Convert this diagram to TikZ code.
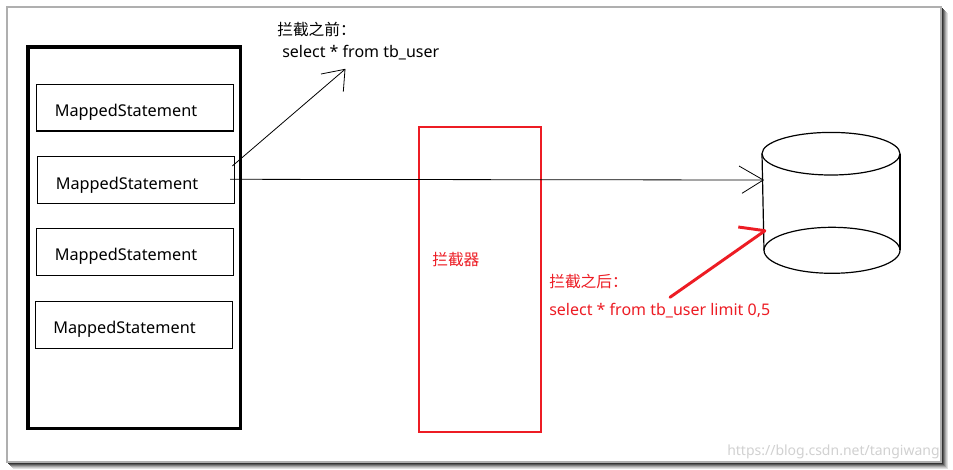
\documentclass[tikz,border=0pt]{standalone}
\usepackage{fontspec}
\setmainfont{Noto Sans}
\newfontfamily\cjk{Noto Sans CJK SC}
\definecolor{redline}{RGB}{237,28,36}
\definecolor{framegray}{RGB}{175,175,175}
\begin{document}
\begin{tikzpicture}[x=0.75pt,y=-0.75pt,
  msbox/.style={draw=black,line width=0.9pt},
  mstext/.style={inner sep=0pt,font=\fontsize{12.2}{14}\selectfont},
  lbl/.style={inner sep=0pt,anchor=west,font=\fontsize{12}{14}\selectfont},
  cjklbl/.style={lbl,font=\cjk\fontsize{11.8}{14}\selectfont},
  redlbl/.style={lbl,text=redline},
  thin/.style={line width=0.6pt},
  redthick/.style={draw=redline,line width=2.2pt}]
\useasboundingbox (0,0) rectangle (953,469);
\fill[white] (0,0) rectangle (953,469);
% frame and shadow
\foreach \d/\c in {1/80,2/65,3/50,4/35,5/22,6/12}{
  \draw[black!\c!white,line width=0.75pt] (941+\d,7+\d) -- (941+\d,462+\d) -- (7+\d,462+\d);
}
\draw[framegray,line width=1.5pt] (7,7) rectangle (941,462);
% big container
\draw[line width=2.3pt] (28,47) rectangle (240.5,428.5);
\draw[msbox] (36.7,84.3) rectangle (233.3,131);
\node[mstext] (ms1) at (126,112.5) {MappedStatement};
\draw[msbox] (37.3,156.3) rectangle (234.3,203.3);
\node[mstext] (ms2) at (127,184.8) {MappedStatement};
\draw[msbox] (36.7,228.7) rectangle (233.3,275.3);
\node[mstext] (ms3) at (126,256.5) {MappedStatement};
\draw[msbox] (35.3,301.3) rectangle (232.7,348.3);
\node[mstext] (ms4) at (124.5,329.5) {MappedStatement};
% interceptor
\draw[redline,line width=2.2pt] (419,127) rectangle (541,432);
\node[cjklbl,text=redline] (icpt) at (432,260) {拦截器};
% labels
\node[cjklbl] (before) at (277,29) {拦截之前：};
\node[lbl] (beforesql) at (282,53) {select * from tb\_user};
\node[cjklbl,text=redline] (after) at (549,281) {拦截之后：};
\node[redlbl] (aftersql) at (549,311) {select * from tb\_user limit 0,5};
% cylinder
\draw[line width=0.9pt] (831,153.7) ellipse [x radius=69, y radius=21.3];
\draw[line width=0.9pt] (832,250.3) ellipse [x radius=68, y radius=23];
\draw[line width=0.9pt] (762,153.7) -- (764,250.3);
\draw[line width=0.9pt] (900,153.7) -- (900,250.3);
\coordinate (dbin) at (763.3,180);
\coordinate (dbred) at (765,230.7);
% arrows
\coordinate (s1) at (230,179.3);
\draw[thin] (s1) -- (dbin);
\draw[thin] (739,166) -- (dbin) -- (742,193.3);
\coordinate (s2) at (232.3,166);
\coordinate (t2) at (345,69.3);
\draw[thin] (s2) -- (t2);
\draw[thin] (321,74) -- (t2) -- (343.3,91.7);
\coordinate (s3) at (670,297.3);
\draw[redthick,line cap=round] (s3) -- (dbred);
\draw[redthick] (738.3,227) -- (dbred);
% watermark
\node[lbl,text=black!18,font=\fontsize{10.5}{12}\selectfont] (wm) at (727,452) {https://blog.csdn.net/tangiwang};
\end{tikzpicture}
\end{document}
